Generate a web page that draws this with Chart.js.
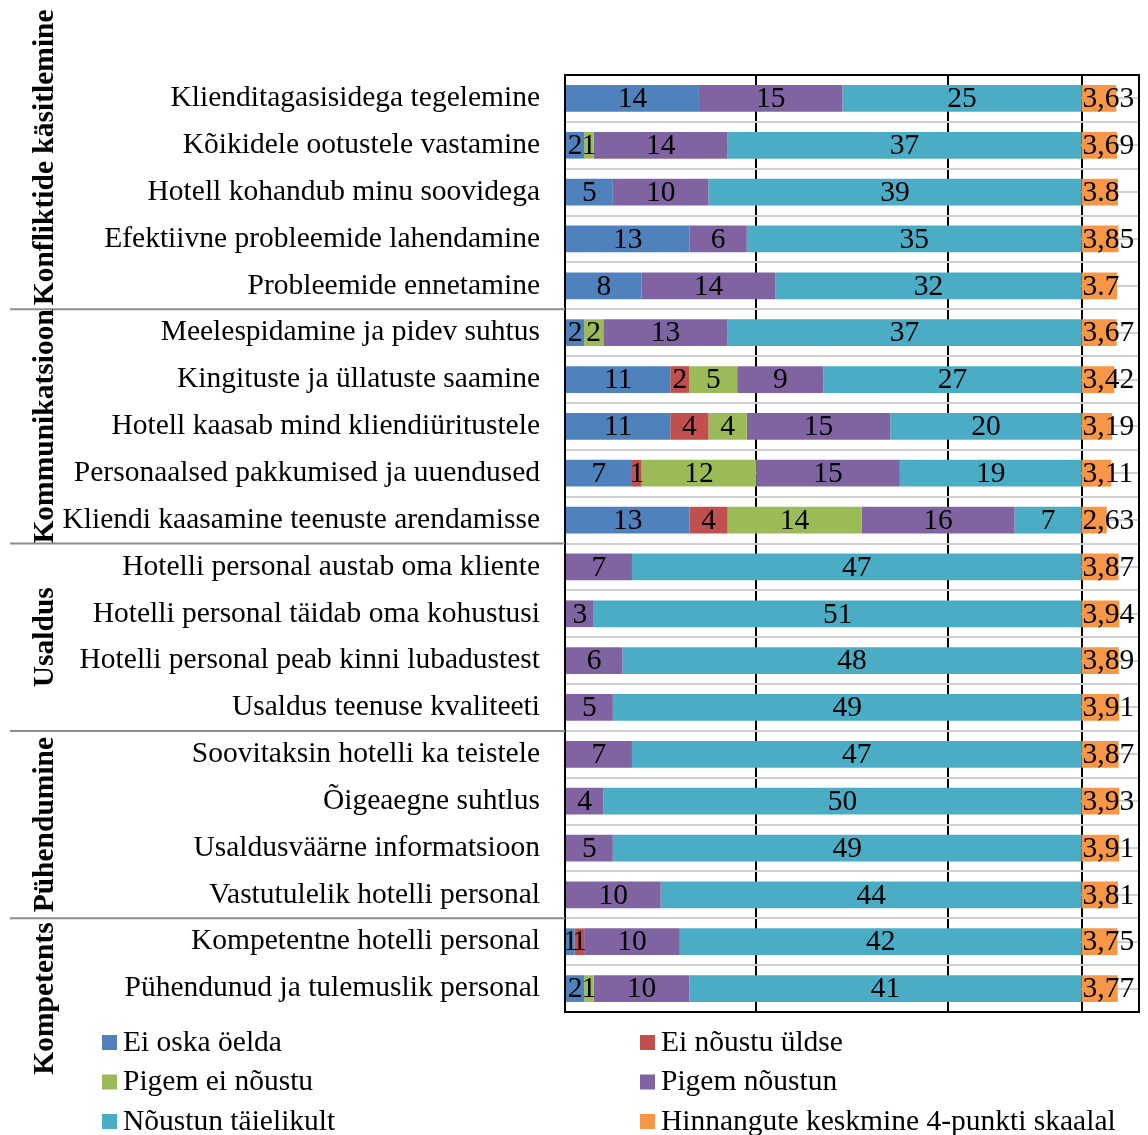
<!DOCTYPE html>
<html>
<head>
<meta charset="utf-8">
<script src="https://cdn.jsdelivr.net/npm/chart.js@4.4.1/dist/chart.umd.min.js"></script>
<style>
  html, body { margin: 0; padding: 0; background: #fff; }
  #chart { display: block; }
</style>
</head>
<body>
<canvas id="chart" width="1148" height="1135"></canvas>
<script>
// rows, top to bottom
const categories = [
  "Klienditagasisidega tegelemine",
  "Kõikidele ootustele vastamine",
  "Hotell kohandub minu soovidega",
  "Efektiivne probleemide lahendamine",
  "Probleemide ennetamine",
  "Meelespidamine ja pidev suhtus",
  "Kingituste ja üllatuste saamine",
  "Hotell kaasab mind kliendiüritustele",
  "Personaalsed pakkumised ja uuendused",
  "Kliendi kaasamine teenuste arendamisse",
  "Hotelli personal austab oma kliente",
  "Hotelli personal täidab oma kohustusi",
  "Hotelli personal peab kinni lubadustest",
  "Usaldus teenuse kvaliteeti",
  "Soovitaksin hotelli ka teistele",
  "Õigeaegne suhtlus",
  "Usaldusväärne informatsioon",
  "Vastutulelik hotelli personal",
  "Kompetentne hotelli personal",
  "Pühendunud ja tulemuslik personal"
];

const eiOska       = [14, 2, 5, 13, 8, 2, 11, 11, 7, 13, 0, 0, 0, 0, 0, 0, 0, 0, 1, 2];
const eiNoustu     = [0, 0, 0, 0, 0, 0, 2, 4, 1, 4, 0, 0, 0, 0, 0, 0, 0, 0, 1, 0];
const pigemEi      = [0, 1, 0, 0, 0, 2, 5, 4, 12, 14, 0, 0, 0, 0, 0, 0, 0, 0, 0, 1];
const pigemNoustun = [15, 14, 10, 6, 14, 13, 9, 15, 15, 16, 7, 3, 6, 5, 7, 4, 5, 10, 10, 10];
const taielikult   = [25, 37, 39, 35, 32, 37, 27, 20, 19, 7, 47, 51, 48, 49, 47, 50, 49, 44, 42, 41];
const keskmine     = [3.63, 3.69, 3.8, 3.85, 3.7, 3.67, 3.42, 3.19, 3.11, 2.63, 3.87, 3.94, 3.89, 3.91, 3.87, 3.93, 3.91, 3.81, 3.75, 3.77];
const keskmineLabels = ["3,63", "3,69", "3.8", "3,85", "3.7", "3,67", "3,42", "3,19", "3,11", "2,63",
                        "3,87", "3,94", "3,89", "3,91", "3,87", "3,93", "3,91", "3,81", "3,75", "3,77"];

const groupNames = ["Konfliktide käsitlemine", "Kommunikatsioon", "Usaldus", "Pühendumine", "Kompetents"];
const groupSizes = [5, 5, 4, 4, 2];
const groupAlign = ["bottom", "center", "center", "center", "top"];

const xTicks = [0, 20, 40, 60];
const refLine = 54;

const FONT = '"Liberation Serif", "Times New Roman", serif';
const SIZE = 29.5;

const valueLabels = {
  id: "valueLabels",
  afterDatasetsDraw(chart) {
    const ctx = chart.ctx;
    ctx.save();
    ctx.font = SIZE + "px " + FONT;
    ctx.fillStyle = "#000";
    ctx.textBaseline = "middle";
    chart.data.datasets.forEach((ds, di) => {
      const meta = chart.getDatasetMeta(di);
      meta.data.forEach((bar, i) => {
        const v = ds.data[i];
        if (!v) return;
        const p = bar.getProps(["x", "y", "base"], true);
        if (di === 5) {
          ctx.textAlign = "left";
          ctx.fillText(keskmineLabels[i], p.base + 1, p.y + 1);
        } else {
          ctx.textAlign = "center";
          ctx.fillText(String(v), (p.x + p.base) / 2, p.y + 1);
        }
      });
    });
    ctx.restore();
  }
};

const decorations = {
  id: "decorations",
  afterDraw(chart) {
    const ctx = chart.ctx;
    const area = chart.chartArea;
    const y = chart.scales.y;
    const step = y.getPixelForValue(1) - y.getPixelForValue(0);
    const edge = k => y.getPixelForValue(k) - step / 2;

    ctx.save();
    // frame
    ctx.strokeStyle = "#000";
    ctx.lineWidth = 2;
    ctx.strokeRect(area.left, area.top, area.right - area.left, area.bottom - area.top);

    // group separators and names
    let start = 0;
    groupNames.forEach((name, g) => {
      const end = start + groupSizes[g];
      const top = edge(start);
      const bottom = edge(end);
      if (g > 0) {
        ctx.strokeStyle = "#8c8c8c";
        ctx.lineWidth = 2;
        ctx.beginPath();
        ctx.moveTo(10, top);
        ctx.lineTo(area.left, top);
        ctx.stroke();
      }
      ctx.save();
      ctx.font = "bold " + SIZE + "px " + FONT;
      ctx.fillStyle = "#000";
      ctx.textBaseline = "middle";
      let cy;
      if (groupAlign[g] === "bottom") { ctx.textAlign = "left"; cy = bottom - 4; }
      else if (groupAlign[g] === "top") { ctx.textAlign = "right"; cy = top + 4; }
      else { ctx.textAlign = "center"; cy = (top + bottom) / 2; }
      ctx.translate(45, cy);
      ctx.rotate(-Math.PI / 2);
      ctx.fillText(name, 0, 0);
      ctx.restore();
      start = end;
    });

    // legend, two columns
    const cols = [102, 640];
    ctx.font = SIZE + "px " + FONT;
    ctx.textBaseline = "middle";
    ctx.textAlign = "left";
    chart.data.datasets.forEach((ds, i) => {
      const cx = cols[i % 2];
      const cy = area.bottom + 30 + Math.floor(i / 2) * 39.5;
      ctx.fillStyle = ds.backgroundColor;
      ctx.fillRect(cx, cy - 7, 15, 15);
      ctx.fillStyle = "#000";
      ctx.fillText(ds.label, cx + 21, cy + 1);
    });
    ctx.restore();
  }
};

new Chart(document.getElementById("chart"), {
  type: "bar",
  data: {
    labels: categories,
    datasets: [
      { label: "Ei oska öelda", data: eiOska, backgroundColor: "#4F81BD" },
      { label: "Ei nõustu üldse", data: eiNoustu, backgroundColor: "#C0504D" },
      { label: "Pigem ei nõustu", data: pigemEi, backgroundColor: "#9BBB59" },
      { label: "Pigem nõustun", data: pigemNoustun, backgroundColor: "#8064A2" },
      { label: "Nõustun täielikult", data: taielikult, backgroundColor: "#4BACC6" },
      { label: "Hinnangute keskmine 4-punkti skaalal", data: keskmine, backgroundColor: "#F79646" }
    ]
  },
  options: {
    indexAxis: "y",
    responsive: false,
    animation: false,
    barPercentage: 0.57,
    categoryPercentage: 1,
    layout: { padding: { top: 75, right: 9, bottom: 123, left: 0 } },
    plugins: {
      legend: { display: false },
      tooltip: { enabled: false }
    },
    scales: {
      x: {
        stacked: true,
        min: 0,
        max: 60,
        ticks: { display: false, stepSize: 20 },
        afterBuildTicks: s => { s.ticks = xTicks.concat([refLine]).map(v => ({ value: v })); },
        grid: {
          drawTicks: false,
          lineWidth: 2,
          color: c => (c.tick && [20, 40, refLine].includes(c.tick.value)) ? "#000" : "rgba(0,0,0,0)"
        },
        border: { display: false },
        afterFit: s => { s.height = 0; }
      },
      y: {
        stacked: true,
        offset: true,
        ticks: { color: "#000", padding: 25, font: { family: FONT, size: SIZE } },
        grid: { offset: true, drawTicks: false, color: "#d0d0d0", lineWidth: 2 },
        border: { display: false },
        afterFit: s => { s.width = 565; }
      },
      y2: {
        type: "category",
        axis: "y",
        position: "left",
        offset: true,
        ticks: { display: false },
        grid: { offset: false, drawTicks: false, color: "#d0d0d0", lineWidth: 2 },
        border: { display: false },
        afterFit: s => { s.width = 0; }
      }
    }
  },
  plugins: [valueLabels, decorations]
});
</script>
</body>
</html>
